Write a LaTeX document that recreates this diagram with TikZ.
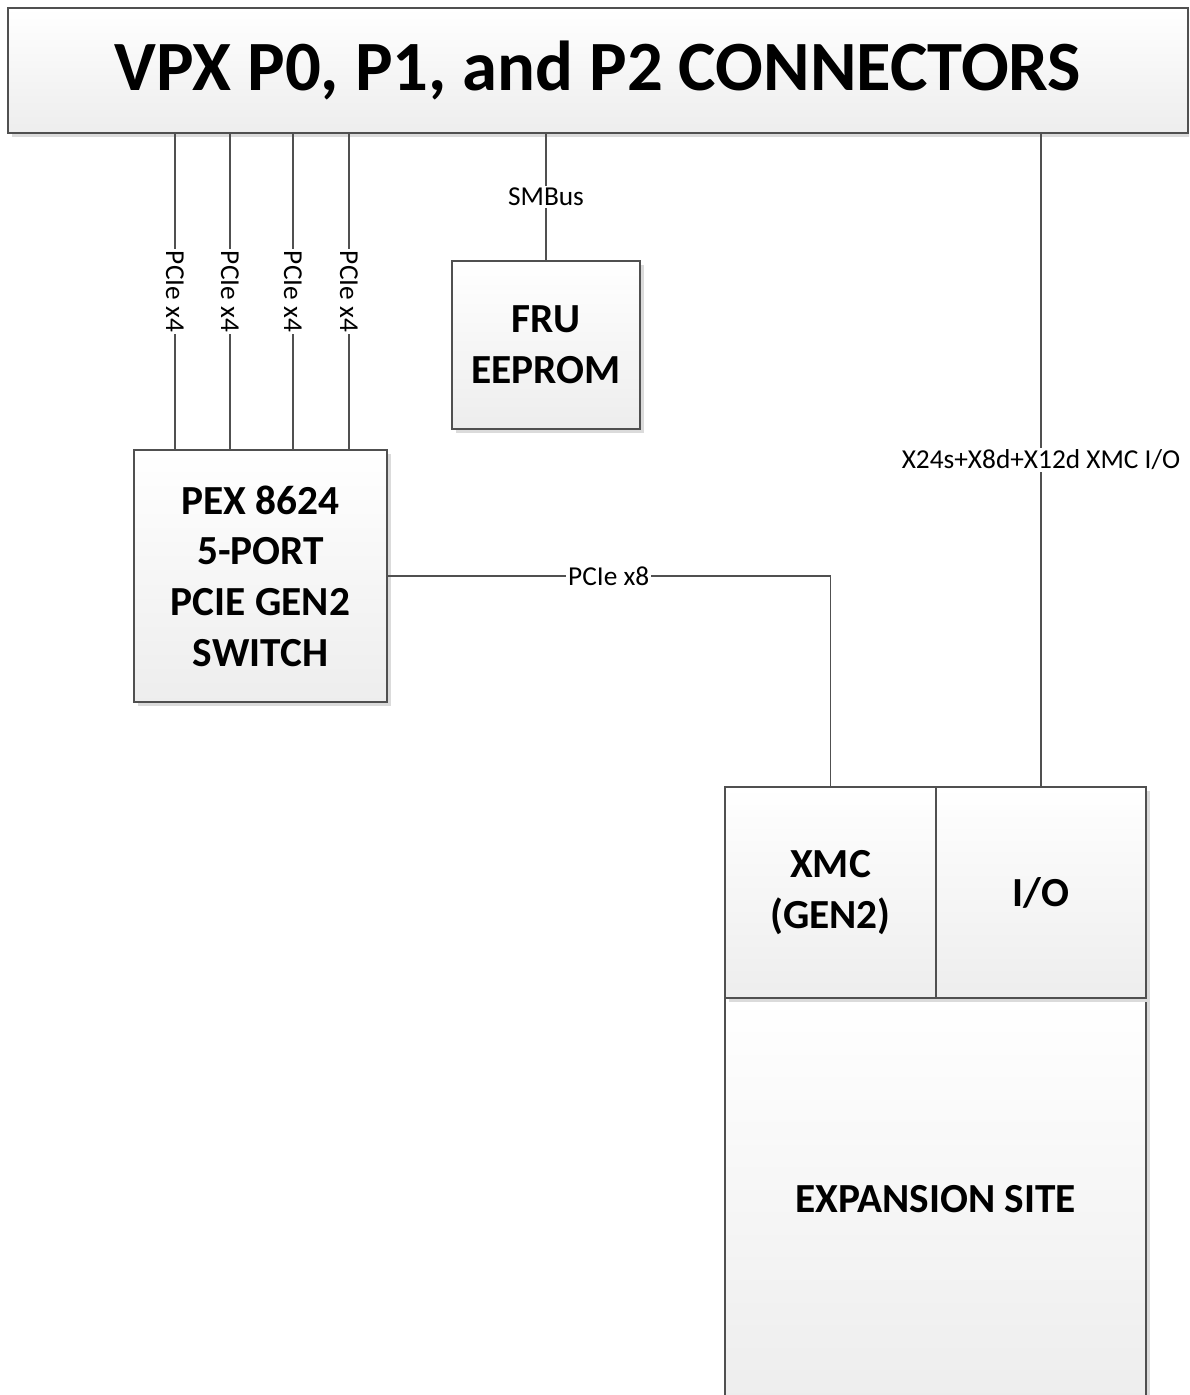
\documentclass[tikz,border=0pt]{standalone}
\usepackage{fontspec}
\setmainfont{Carlito}
\usetikzlibrary{shadows}
\definecolor{linec}{HTML}{505050}
\begin{document}
\begin{tikzpicture}[x=0.75pt,y=-0.75pt,
  box/.style={draw=linec, line width=1.1pt, top color=white, bottom color=black!7,
    drop shadow={shadow xshift=3pt, shadow yshift=-3pt, fill=black!14, opacity=1},
    inner sep=0pt, outer sep=0pt, align=center,
    font=\bfseries\fontsize{31}{38}\selectfont},
  conn/.style={draw=linec, line width=1.1pt},
  lbl/.style={fill=white, inner sep=1.5pt, font=\fontsize{20.5}{24}\selectfont}]
\useasboundingbox (0,0) rectangle (1189,1395);
\clip (0,0) rectangle (1189,1395);
\node[box, minimum width=885pt, minimum height=93.75pt,
  font=\bfseries\fontsize{53}{60}\selectfont] (hdr) at (598,70.5) {VPX P0, P1, and P2 CONNECTORS};
\node[box, minimum width=141pt, minimum height=126pt] (fru) at (546,345) {FRU\\EEPROM};
\node[box, minimum width=189.75pt, minimum height=189pt] (pex) at (260.5,576) {PEX 8624\\5-PORT\\PCIE GEN2\\SWITCH};
\node[box, minimum width=315.75pt, minimum height=301.5pt] (exp) at (935.5,1199) {EXPANSION SITE};
\node[box, minimum width=158.25pt, minimum height=158.25pt] (xmc) at (830.5,892.5) {XMC\\(GEN2)};
\node[box, minimum width=157.5pt, minimum height=158.25pt] (io) at (1041,892.5) {I/O};
% PCIe x4 links
\foreach \i/\x in {1/175,2/230,3/293,4/349} {
  \coordinate (p\i) at (\x,450);
  \draw[conn] (p\i) -- (p\i |- hdr.south)
    node[lbl, midway, rotate=-90] {PCIe x4};
}
% SMBus
\draw[conn] (fru.north) -- (fru.north |- hdr.south) node[lbl, midway] {SMBus};
% PCIe x8
\draw[conn] (pex.east) -| (xmc.north) node[lbl, pos=0.25] {PCIe x8};
% XMC I/O
\draw[conn] (io.north) -- (io.north |- hdr.south) node[lbl, midway] {X24s+X8d+X12d XMC I/O};
\end{tikzpicture}
\end{document}
